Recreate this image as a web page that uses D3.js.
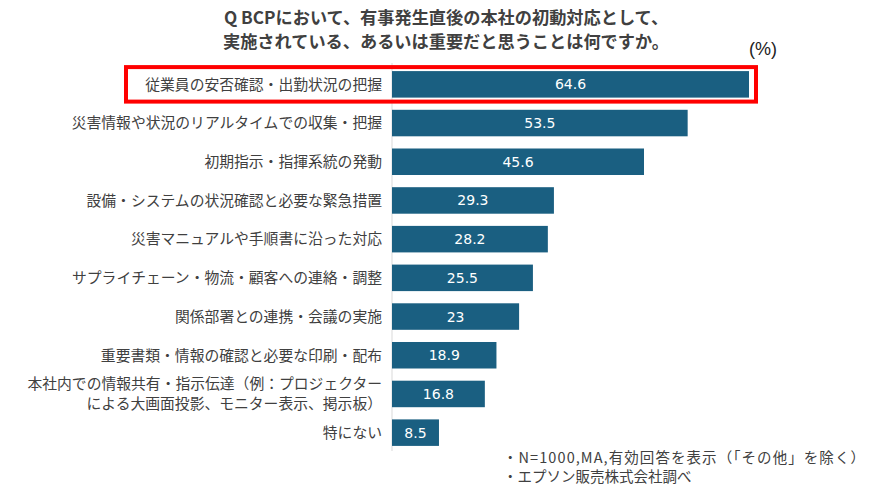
<!DOCTYPE html>
<html><head><meta charset="utf-8">
<script src="https://cdn.jsdelivr.net/npm/d3@7"></script>
<style>
html,body{margin:0;padding:0;background:#fff;}
svg{display:block;}
</style></head>
<body>
<svg id="chart" width="886" height="501"></svg>
<script>
const categories = [
  ["従業員の安否確認・出勤状況の把握"],
  ["災害情報や状況のリアルタイムでの収集・把握"],
  ["初期指示・指揮系統の発動"],
  ["設備・システムの状況確認と必要な緊急措置"],
  ["災害マニュアルや手順書に沿った対応"],
  ["サプライチェーン・物流・顧客への連絡・調整"],
  ["関係部署との連携・会議の実施"],
  ["重要書類・情報の確認と必要な印刷・配布"],
  ["本社内での情報共有・指示伝達（例：プロジェクター", "による大画面投影、モニター表示、掲示板）"],
  ["特にない"]
];
const values = [64.6, 53.5, 45.6, 29.3, 28.2, 25.5, 23, 18.9, 16.8, 8.5];
const valueLabels = ["64.6", "53.5", "45.6", "29.3", "28.2", "25.5", "23", "18.9", "16.8", "8.5"];
const titleLines = ["Q BCPにおいて、有事発生直後の本社の初動対応として、", "実施されている、あるいは重要だと思うことは何ですか。"];
const unitLabel = "(%)";
const notes = ["・N=1000,MA,有効回答を表示（「その他」を除く）", "・エプソン販売株式会社調べ"];
const highlightIndex = 0;

const svg = d3.select("#chart");
const jp = "'Noto Sans CJK JP','Noto Sans',sans-serif";
const textColor = "#404040";
const barColor = "#1a5f81";

const idx = d3.range(values.length);
const x = d3.scaleLinear().domain([0, 64.6]).range([392, 749]);
const y = d3.scaleBand().domain(idx).range([65, 452]).paddingInner(0.315).paddingOuter(0.1575);

// title
svg.append("g").selectAll("text").data(titleLines).join("text")
  .attr("x", 446).attr("y", (d, i) => 24 + i * 24)
  .attr("text-anchor", "middle")
  .attr("font-family", jp).attr("font-weight", "bold").attr("font-size", 17.2)
  .attr("fill", textColor).text(d => d);

// unit
svg.append("text").attr("x", 763).attr("y", 55).attr("text-anchor", "middle")
  .attr("font-family", "'Liberation Sans',Arial,sans-serif").attr("font-size", 18).attr("fill", "#222").text(unitLabel);

// axis line
svg.append("line").attr("x1", 392).attr("x2", 392).attr("y1", 63).attr("y2", 451)
  .attr("stroke", "#d9d9d9").attr("stroke-width", 1);

// bars
svg.append("g").selectAll("rect").data(idx).join("rect")
  .attr("x", x(0)).attr("y", i => y(i))
  .attr("width", i => x(values[i]) - x(0)).attr("height", y.bandwidth())
  .attr("fill", barColor);

// value labels
svg.append("g").selectAll("text").data(idx).join("text")
  .attr("x", i => (x(0) + x(values[i])) / 2)
  .attr("y", i => y(i) + y.bandwidth() / 2)
  .attr("dy", "0.36em").attr("text-anchor", "middle")
  .attr("font-family", "'DejaVu Sans',Verdana,sans-serif").attr("font-size", 14)
  .attr("fill", "#fff").text(i => valueLabels[i]);

// category labels
const lg = svg.append("g");
idx.forEach(i => {
  const lines = categories[i];
  const cy = y(i) + y.bandwidth() / 2;
  const lh = 20;
  lines.forEach((t, k) => {
    lg.append("text").attr("x", 382)
      .attr("y", cy + (k - (lines.length - 1) / 2) * lh)
      .attr("dy", "0.36em").attr("text-anchor", "end")
      .attr("font-family", jp).attr("font-size", 14.8)
      .attr("fill", textColor).text(t);
  });
});

// highlight box
svg.append("rect")
  .attr("x", 126).attr("y", y(highlightIndex) - 4)
  .attr("width", 630).attr("height", y.bandwidth() + 8)
  .attr("fill", "none").attr("stroke", "#ff0000").attr("stroke-width", 4);

// notes
svg.append("g").selectAll("text").data(notes).join("text")
  .attr("x", 503).attr("y", (d, i) => 463 + i * 19)
  .attr("font-family", jp).attr("font-size", 14.5)
  .attr("fill", textColor)
  .each(function(d, i) { if (i === 0) d3.select(this).attr("textLength", 362).attr("lengthAdjust", "spacing"); })
  .text(d => d);
</script>
</body></html>
